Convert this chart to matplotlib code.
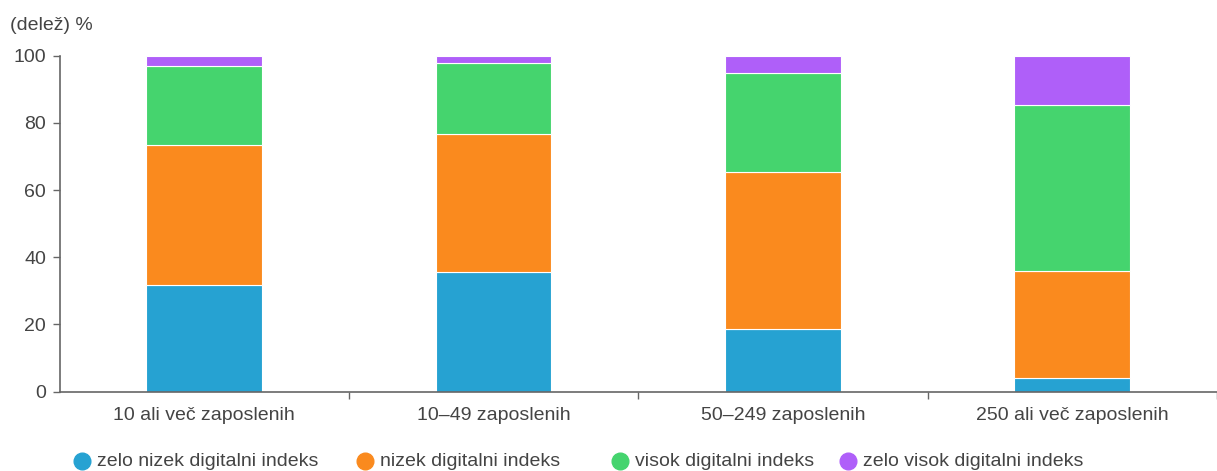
import matplotlib
matplotlib.use("Agg")
import matplotlib.pyplot as plt
from matplotlib.lines import Line2D
import numpy as np

categories = ["10 ali več zaposlenih", "10–49 zaposlenih", "50–249 zaposlenih", "250 ali več zaposlenih"]
series_names = ["zelo nizek digitalni indeks", "nizek digitalni indeks", "visok digitalni indeks", "zelo visok digitalni indeks"]
zelo_nizek = [31.7, 35.5, 18.6, 3.9]
nizek = [41.8, 41.2, 46.9, 32.1]
visok = [23.4, 21.2, 29.4, 49.3]
zelo_visok = [3.1, 2.1, 5.1, 14.7]
colors = ["#26A2D2", "#FA8A1E", "#45D46E", "#AF5FF9"]

plt.rcParams['font.family'] = ['Liberation Sans', 'DejaVu Sans']
W, H = 1217, 471
TXT = "#444444"

fig = plt.figure(figsize=(W/100, H/100), dpi=100)
ax = fig.add_axes([60/W, 1-391.5/H, 1-60/W, (391.5-55.7)/H])

x = np.arange(len(categories))
bottom = np.zeros(len(categories))
for vals, col, name in zip([zelo_nizek, nizek, visok, zelo_visok], colors, series_names):
    ax.bar(x, vals, width=0.4, bottom=bottom, color=col, edgecolor="white", linewidth=0.8, label=name, zorder=2)
    bottom += np.array(vals)

step = 293.0
ax.set_xlim(-146/step, (W-206)/step)
ax.set_ylim(0, 100)
ax.set_yticks([0, 20, 40, 60, 80, 100])
ax.set_xticks(x)
ax.set_xticklabels(categories)
ax.set_xticks(np.arange(0.5, 3.6, 1.0), minor=True)
ax.tick_params(axis='x', which='major', length=0, pad=11, labelsize=14, labelcolor=TXT)
ax.tick_params(axis='x', which='minor', length=5, width=1, color="#666666", direction='out')
ax.tick_params(axis='y', length=5, width=1, color="#666666", labelsize=14, labelcolor=TXT, pad=5)
for s in ["top", "right"]:
    ax.spines[s].set_visible(False)
for s in ["left", "bottom"]:
    ax.spines[s].set_color("#666666")
    ax.spines[s].set_linewidth(1.2)

fig.text(10/W, 1-25/H, "(delež) %", fontsize=14, color=TXT, va="center", ha="left")

marker_x = [82, 365, 620, 848]
for mx, col, name in zip(marker_x, colors, series_names):
    fig.add_artist(Line2D([mx/W], [1-461/H], marker='o', linestyle='none', markersize=12,
                          markerfacecolor=col, markeredgecolor=col, transform=fig.transFigure))
    fig.text((mx+15)/W, 1-461/H, name, fontsize=14, color=TXT, va="center", ha="left")

fig.savefig("out.png", dpi=100)
